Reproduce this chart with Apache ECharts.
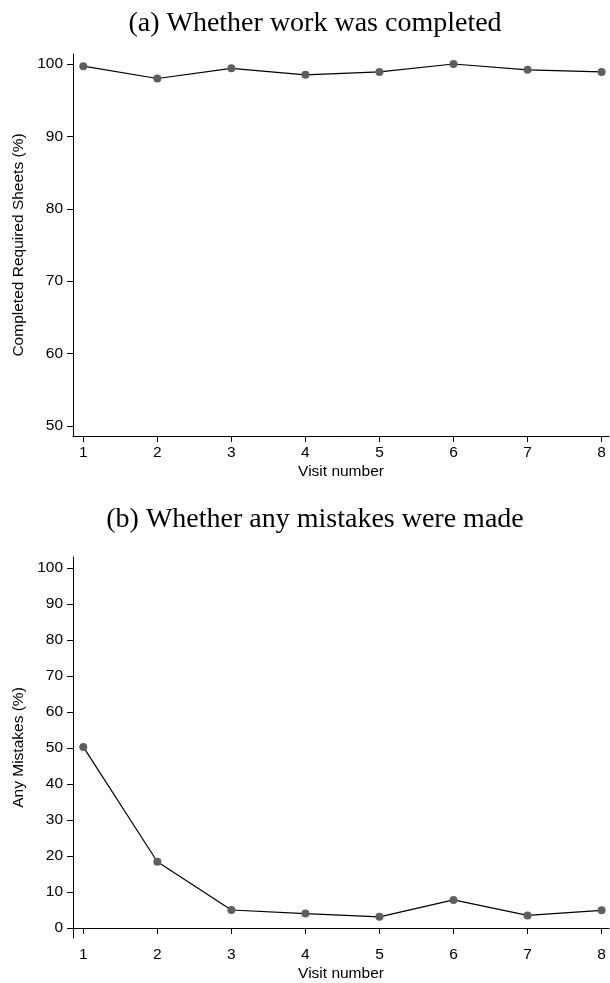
<!DOCTYPE html>
<html>
<head>
<meta charset="utf-8">
<script src="https://cdn.jsdelivr.net/npm/echarts@6/dist/echarts.min.js"></script>
<style>
html, body { margin: 0; padding: 0; background: #fff; }
#chart { width: 610px; height: 983px; }
</style>
</head>
<body>
<div id="chart"></div>
<script>
// visit numbers on the x axis
var visits = [1, 2, 3, 4, 5, 6, 7, 8];
// (a) completed required sheets (%)
var completed = [99.7, 98.0, 99.4, 98.5, 98.9, 100.0, 99.2, 98.9];
// (b) any mistakes (%)
var mistakes = [50.3, 18.4, 5.0, 4.0, 3.1, 7.8, 3.5, 4.9];
// tick labels
var ticksA = [50, 60, 70, 80, 90, 100];
var ticksB = [0, 10, 20, 30, 40, 50, 60, 70, 80, 90, 100];

var sans = "Liberation Sans";
var serif = "Liberation Serif";

function pairs(ys) {
    return visits.map(function (v, i) { return [v, ys[i]]; });
}

function xAxisFor(gridIndex) {
    return {
        type: "value",
        gridIndex: gridIndex,
        min: 0.861,
        max: 8.1,
        name: "Visit number",
        nameLocation: "middle",
        nameGap: 28,
        nameTextStyle: { color: "#000", fontFamily: sans, fontSize: 15.5 },
        axisLine: { show: true, lineStyle: { color: "#000", width: 1 } },
        axisTick: { show: true, length: 6, lineStyle: { color: "#000" }, customValues: visits },
        axisLabel: { color: "#000", fontFamily: sans, fontSize: 15.5, margin: 9, customValues: visits },
        splitLine: { show: false },
    };
}

function yAxisFor(gridIndex, min, max, ticks, name) {
    return {
        type: "value",
        gridIndex: gridIndex,
        min: min,
        max: max,
        name: name,
        nameLocation: "middle",
        nameGap: 44,
        nameTextStyle: { color: "#000", fontFamily: sans, fontSize: 15.5 },
        axisLine: { show: true, lineStyle: { color: "#000", width: 1 } },
        axisTick: { show: true, length: 6, lineStyle: { color: "#000" }, customValues: ticks },
        axisLabel: { color: "#000", fontFamily: sans, fontSize: 15.5, margin: 10, customValues: ticks },
        splitLine: { show: false },
    };
}

function lineSeries(idx, ys) {
    return {
        type: "line",
        xAxisIndex: idx,
        yAxisIndex: idx,
        data: pairs(ys),
        symbol: "circle",
        symbolSize: 8,
        itemStyle: { color: "#5f5f5f" },
        lineStyle: { color: "#000", width: 1.2 },
        animation: false,
    };
}

var myChart = echarts.init(document.getElementById("chart"));
myChart.setOption({
    backgroundColor: "#fff",
    animation: false,
    title: [{
        text: "(a) Whether work was completed",
        left: 310,
        textAlign: "center",
        top: 5,
        textStyle: { fontFamily: serif, fontSize: 28, fontWeight: "normal", color: "#000" },
    }, {
        text: "(b) Whether any mistakes were made",
        left: 310,
        textAlign: "center",
        top: 501,
        textStyle: { fontFamily: serif, fontSize: 28, fontWeight: "normal", color: "#000" },
    }],
    grid: [
        { left: 73, right: 1, top: 54, height: 382 },
        { left: 73, right: 1, top: 557, height: 381 },
    ],
    xAxis: [xAxisFor(0), xAxisFor(1)],
    yAxis: [
        yAxisFor(0, 48.62, 101.38, ticksA, "Completed Required Sheets (%)"),
        yAxisFor(1, -2.78, 103.05, ticksB, "Any Mistakes (%)"),
    ],
    series: [lineSeries(0, completed), lineSeries(1, mistakes)],
});
window.addEventListener("resize", function () {
    myChart.resize();
});
</script>
</body>
</html>
